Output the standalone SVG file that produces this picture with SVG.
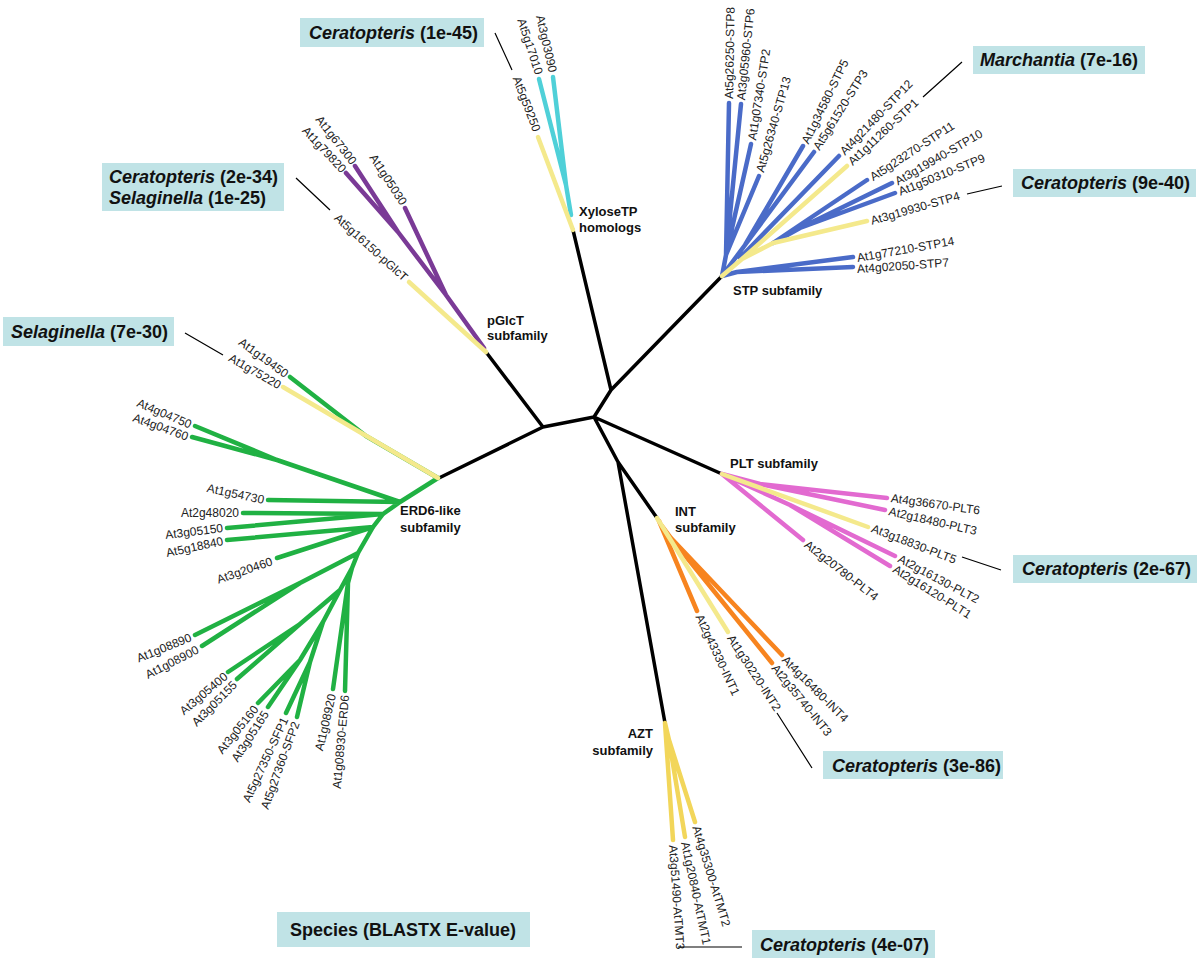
<svg xmlns="http://www.w3.org/2000/svg" width="1200" height="962" viewBox="0 0 1200 962">
<style>
.bk{stroke:#000;stroke-width:3.5;fill:none;stroke-linecap:round;stroke-linejoin:round}
.br{fill:none;stroke-width:4.5;stroke-linecap:round;stroke-linejoin:round}
.y{stroke:#f4e98c}.cy{stroke:#4fd0d8}.pu{stroke:#7a3a96}.bl{stroke:#4a6bc8}.gr{stroke:#20b143}.mg{stroke:#e26ad0}.or{stroke:#f7841f}.gd{stroke:#f2d65a}
.lb{font-family:"Liberation Sans",Arial,sans-serif;font-size:12px;fill:#222;dominant-baseline:central}
.e{text-anchor:end}
.sf{font-family:"Liberation Sans",Arial,sans-serif;font-size:13px;font-weight:bold;fill:#111}
.box{fill:#c0e3e6}
.bt{font-family:"Liberation Sans",Arial,sans-serif;font-size:18px;font-weight:bold;fill:#111}
.ld{stroke:#000;stroke-width:1.2;fill:none}
</style>
<g id="connectors">
<path class="bk" d="M543,427 L594,417 M543,427 L486,352 M543,427 L439,478 M594,417 L611,390 L573,230 M611,390 L722,276 M594,417 L722,474 M594,417 L618,462 L657,518 M618,462 L665,723"/>
</g>
<g id="xylose">
<path class="br cy" d="M571,215 L566,185 L539,79 M566,185 L553,77"/>
<path class="br y" d="M573,230 L538,137"/>
<text class="lb e" transform="translate(537,131) rotate(69)">At5g59250</text>
<text class="lb e" transform="translate(539,74) rotate(72)">At5g17010</text>
<text class="lb e" transform="translate(553,72) rotate(77)">At3g03090</text>
<text class="sf" x="579" y="216">XyloseTP</text>
<text class="sf" x="579" y="232">homologs</text>
</g>
<g id="pglct">
<path class="br pu" d="M484,348 L446,295 L405,208 M446,295 L398,232 L355,166 M398,232 L346,173"/>
<path class="br y" d="M486,352 L409,282"/>
<text class="lb e" transform="translate(406,279) rotate(42)">At5g16150-pGlcT</text>
<text class="lb e" transform="translate(344,171) rotate(47)">At1g79820</text>
<text class="lb e" transform="translate(354,163) rotate(52)">At1g67300</text>
<text class="lb e" transform="translate(404,204) rotate(57)">At1g05030</text>
<text class="sf" x="487" y="325">pGlcT</text>
<text class="sf" x="487" y="340">subfamily</text>
</g>
<g id="stp">
<path class="br bl" d="M722,276 L737,272 L853,267 M737,272 L853,257 M773,243 L867,180 M773,243 L800,228 L892,183 M800,228 L895,193 M740,258 L839,156 M722,276 L745,245 L803,146 M745,245 L814,152 M722,276 L726,255 L729,103 M726,255 L741,104 M726,255 L751,144 M726,255 L759,176"/>
<path class="br y" d="M722,276 L742,259 L773,243 L867,221 M742,259 L847,166"/>
<text class="lb" transform="translate(729,99) rotate(-89)">At5g26250-STP8</text>
<text class="lb" transform="translate(741,100) rotate(-84)">At3g05960-STP6</text>
<text class="lb" transform="translate(752,140) rotate(-81)">At1g07340-STP2</text>
<text class="lb" transform="translate(760,172) rotate(-74)">At5g26340-STP13</text>
<text class="lb" transform="translate(805,143) rotate(-64)">At1g34580-STP5</text>
<text class="lb" transform="translate(816,149) rotate(-58)">At5g61520-STP3</text>
<text class="lb" transform="translate(842,153) rotate(-46)">At4g21480-STP12</text>
<text class="lb" transform="translate(850,163) rotate(-43)">At1g11260-STP1</text>
<text class="lb" transform="translate(871,178) rotate(-33)">At5g23270-STP11</text>
<text class="lb" transform="translate(896,182) rotate(-30)">At3g19940-STP10</text>
<text class="lb" transform="translate(899,192) rotate(-22)">At1g50310-STP9</text>
<text class="lb" transform="translate(871,221) rotate(-16)">At3g19930-STP4</text>
<text class="lb" transform="translate(857,258) rotate(-10)">At1g77210-STP14</text>
<text class="lb" transform="translate(857,269) rotate(-4)">At4g02050-STP7</text>
<text class="sf" x="733" y="295">STP subfamily</text>
</g>
<g id="plt">
<path class="br mg" d="M722,474 L803,540 M722,474 L760,484 L887,498 M760,484 L885,510 M722,474 L790,505 L895,556 M790,505 L890,566"/>
<path class="br y" d="M722,474 L868,527"/>
<text class="lb" transform="translate(891,498) rotate(8)">At4g36670-PLT6</text>
<text class="lb" transform="translate(889,511) rotate(13)">At2g18480-PLT3</text>
<text class="lb" transform="translate(872,528) rotate(21)">At3g18830-PLT5</text>
<text class="lb" transform="translate(899,558) rotate(28)">At2g16130-PLT2</text>
<text class="lb" transform="translate(894,568) rotate(32)">At2g16120-PLT1</text>
<text class="lb" transform="translate(806,543) rotate(38)">At2g20780-PLT4</text>
<text class="sf" x="730" y="468">PLT subfamily</text>
</g>
<g id="int">
<path class="br or" d="M659,521 L697,611 M662,526 L671,538 L772,663 M671,538 L782,655"/>
<path class="br y" d="M657,518 L728,632"/>
<text class="lb" transform="translate(699,615) rotate(65)">At2g43330-INT1</text>
<text class="lb" transform="translate(730,636) rotate(57)">At1g30220-INT2</text>
<text class="lb" transform="translate(774,666) rotate(51)">At2g35740-INT3</text>
<text class="lb" transform="translate(784,658) rotate(45)">At4g16480-INT4</text>
<text class="sf" x="675" y="516">INT</text>
<text class="sf" x="675" y="532">subfamily</text>
</g>
<g id="azt">
<path class="br gd" d="M665,723 L673,840 M665,723 L669,740 L685,837 M669,740 L695,822"/>
<text class="lb" transform="translate(673,845) rotate(86)">At3g51490-AtTMT3</text>
<text class="lb" transform="translate(685,842) rotate(78)">At1g20840-AtTMT1</text>
<text class="lb" transform="translate(696,826) rotate(73)">At4g35300-AtTMT2</text>
<text class="sf" x="653" y="738" text-anchor="end">AZT</text>
<text class="sf" x="653" y="755" text-anchor="end">subfamily</text>
</g>
<g id="erd6">
<path class="br gr" d="M438,478 L400,502 L383,514 L373,527 L358,553 L352,568 M438,478 L366,436 L290,377 M400,502 L277,460 L195,426 M277,460 L192,437 M400,502 L268,500 M383,514 L243,513 M383,514 L227,528 M373,527 L227,540 M373,527 L277,558 M358,553 L300,583 L195,635 M300,583 L202,646 M352,568 L348,583 L333,689 M348,583 L345,691 M352,568 L340,590 L300,624 L228,672 M300,624 L237,679 M340,590 L323,622 L300,660 L258,703 M300,660 L268,707 M323,622 L310,662 L286,713 M310,662 L297,717"/>
<path class="br y" d="M438,478 L283,387"/>
<text class="lb e" transform="translate(287,375) rotate(36)">At1g19450</text>
<text class="lb e" transform="translate(280,386) rotate(30)">At1g75220</text>
<text class="lb e" transform="translate(191,425) rotate(23)">At4g04750</text>
<text class="lb e" transform="translate(188,437) rotate(20)">At4g04760</text>
<text class="lb e" transform="translate(264,500) rotate(12)">At1g54730</text>
<text class="lb e" transform="translate(239,513)">At2g48020</text>
<text class="lb e" transform="translate(223,528) rotate(-7)">At3g05150</text>
<text class="lb e" transform="translate(223,541) rotate(-12)">At5g18840</text>
<text class="lb e" transform="translate(272,561) rotate(-19)">At3g20460</text>
<text class="lb e" transform="translate(191,637) rotate(-22)">At1g08890</text>
<text class="lb e" transform="translate(198,649) rotate(-27)">At1g08900</text>
<text class="lb e" transform="translate(226,675) rotate(-40)">At3g05400</text>
<text class="lb e" transform="translate(235,683) rotate(-45)">At3g05155</text>
<text class="lb e" transform="translate(256,707) rotate(-51)">At3g05160</text>
<text class="lb e" transform="translate(266,712) rotate(-57)">At3g05165</text>
<text class="lb e" transform="translate(285,718) rotate(-65)">At5g27350-SFP1</text>
<text class="lb e" transform="translate(296,722) rotate(-70)">At5g27360-SFP2</text>
<text class="lb e" transform="translate(332,694) rotate(-77)">At1g08920</text>
<text class="lb e" transform="translate(345,695) rotate(-85)">At1g08930-ERD6</text>
<text class="sf" x="400" y="515">ERD6-like</text>
<text class="sf" x="400" y="532">subfamily</text>
</g>
<g id="leaders">
<path class="ld" d="M495,33 L512,70 M296,178 L330,210 M185,333 L223,355 M923,97 L962,62 M967,194 L1002,186 M962,557 L1001,570 M777,713 L812,768 M678,947 L742,947"/>
</g>
<g id="box-cer1">
<rect class="box" x="300" y="18" width="184" height="29"/>
<text class="bt" x="309" y="39"><tspan font-style="italic">Ceratopteris</tspan> (1e-45)</text>
</g>
<g id="box-cersel">
<rect class="box" x="102" y="163" width="182" height="48"/>
<text class="bt" x="109" y="183"><tspan font-style="italic">Ceratopteris</tspan> (2e-34)</text>
<text class="bt" x="109" y="204"><tspan font-style="italic">Selaginella</tspan> (1e-25)</text>
</g>
<g id="box-sel">
<rect class="box" x="3" y="317" width="171" height="29"/>
<text class="bt" x="11" y="338"><tspan font-style="italic">Selaginella</tspan> (7e-30)</text>
</g>
<g id="box-mar">
<rect class="box" x="973" y="46" width="172" height="28"/>
<text class="bt" x="980" y="66"><tspan font-style="italic">Marchantia</tspan> (7e-16)</text>
</g>
<g id="box-cer2">
<rect class="box" x="1013" y="169" width="183" height="28"/>
<text class="bt" x="1021" y="189"><tspan font-style="italic">Ceratopteris</tspan> (9e-40)</text>
</g>
<g id="box-cer3">
<rect class="box" x="1013" y="555" width="184" height="28"/>
<text class="bt" x="1022" y="575"><tspan font-style="italic">Ceratopteris</tspan> (2e-67)</text>
</g>
<g id="box-cer4">
<rect class="box" x="823" y="751" width="180" height="28"/>
<text class="bt" x="832" y="772"><tspan font-style="italic">Ceratopteris</tspan> (3e-86)</text>
</g>
<g id="box-cer5">
<rect class="box" x="752" y="930" width="183" height="28"/>
<text class="bt" x="760" y="951"><tspan font-style="italic">Ceratopteris</tspan> (4e-07)</text>
</g>
<g id="legend">
<rect class="box" x="277" y="912" width="253" height="35"/>
<text class="bt" x="403" y="936" text-anchor="middle">Species (BLASTX E-value)</text>
</g>
</svg>
